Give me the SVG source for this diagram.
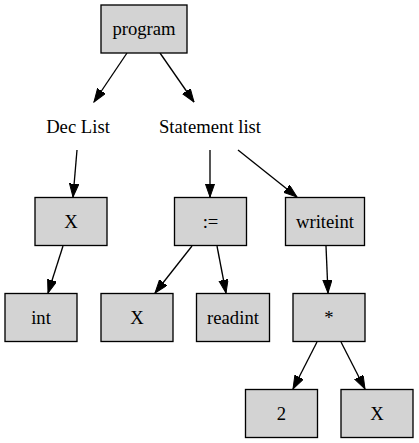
<svg xmlns="http://www.w3.org/2000/svg" width="419" height="443" viewBox="0 0 419 443">
<style>
.n rect{fill:#d3d3d3;stroke:#000;stroke-width:1.33}
text{font-family:"Liberation Serif","Times New Roman",serif;font-size:18.67px;text-anchor:middle;fill:#000}
.e line{stroke:#000;stroke-width:1.33;marker-end:url(#ah)}
</style>
<defs>
<marker id="ah" markerUnits="userSpaceOnUse" markerWidth="14" markerHeight="10" refX="13.3" refY="4.67" orient="auto">
<path d="M0,0 L13.3,4.67 L0,9.33 z" fill="#000" stroke="#000" stroke-width="1"/>
</marker>
</defs>
<rect width="419" height="443" fill="#fff"/>
<g class="e" id="edges">
<line x1="127" y1="53" x2="94" y2="102"/>
<line x1="160" y1="53" x2="194" y2="102"/>
<line x1="77" y1="150" x2="73" y2="197"/>
<line x1="210" y1="150" x2="210" y2="197"/>
<line x1="238" y1="150" x2="297" y2="197"/>
<line x1="63" y1="246" x2="48" y2="293"/>
<line x1="192" y1="246" x2="155" y2="293"/>
<line x1="217" y1="246" x2="226" y2="293"/>
<line x1="326" y1="246" x2="328" y2="293"/>
<line x1="317" y1="342" x2="293" y2="389"/>
<line x1="341" y1="342" x2="365" y2="389"/>
</g>
<g class="n" id="program"><rect x="101" y="5" width="86" height="48"/><text x="144" y="35">program</text></g>
<g id="declist"><text x="78" y="133">Dec List</text></g>
<g id="stmtlist"><text x="210" y="133">Statement list</text></g>
<g class="n" id="x1"><rect x="35" y="197.5" width="72" height="48"/><text x="71" y="228">X</text></g>
<g class="n" id="assign"><rect x="174.5" y="197.5" width="72" height="48"/><text x="210.5" y="228">:=</text></g>
<g class="n" id="writeint"><rect x="285.5" y="197.5" width="79" height="48"/><text x="325" y="228">writeint</text></g>
<g class="n" id="int"><rect x="5" y="293.5" width="72" height="48"/><text x="41" y="324">int</text></g>
<g class="n" id="x2"><rect x="101" y="293.5" width="72" height="48"/><text x="137" y="324">X</text></g>
<g class="n" id="readint"><rect x="196.5" y="293.5" width="73" height="48"/><text x="233" y="324">readint</text></g>
<g class="n" id="mul"><rect x="293" y="293.5" width="72" height="48"/><text x="329" y="324">*</text></g>
<g class="n" id="two"><rect x="245.5" y="389.5" width="72" height="48"/><text x="281.5" y="420">2</text></g>
<g class="n" id="x3"><rect x="341" y="389.5" width="72" height="48"/><text x="377" y="420">X</text></g>
</svg>
